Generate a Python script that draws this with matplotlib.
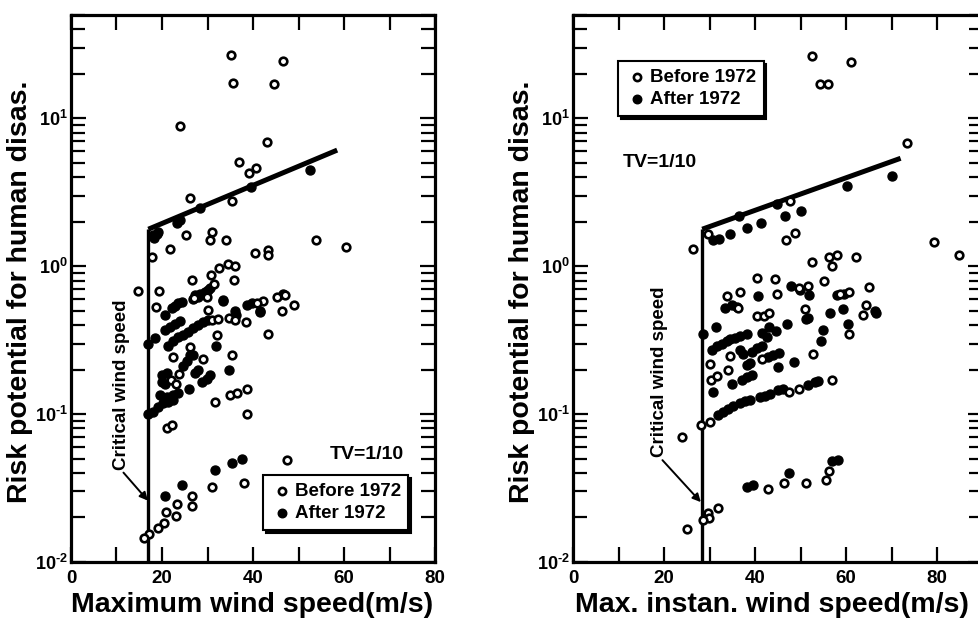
import numpy as np
import matplotlib
matplotlib.use("Agg")
import matplotlib.pyplot as plt
from matplotlib.ticker import LogLocator, MultipleLocator, FuncFormatter, NullFormatter

plt.rcParams['font.family'] = ['Liberation Sans', 'DejaVu Sans']
plt.rcParams['font.weight'] = 'bold'
plt.rcParams['mathtext.fontset'] = 'custom'
plt.rcParams['mathtext.rm'] = 'Liberation Sans:bold'
plt.rcParams['mathtext.bf'] = 'Liberation Sans:bold'
plt.rcParams['mathtext.default'] = 'bf'

# ---- left panel: maximum wind speed ----
left_before_x = [35.2, 35.5, 46.5, 44.6, 24.0, 43.0, 36.9, 39.2, 40.7, 26.2, 35.3, 53.8, 60.4,
                 25.3, 30.9, 30.5, 34.1, 21.8, 17.9, 40.5, 43.2, 43.2, 32.5, 34.4, 36.0, 26.5,
                 35.9, 30.8, 31.5, 14.8, 19.4, 49.0, 47.0, 45.3, 42.2, 40.8, 27.1, 29.8, 18.6,
                 30.2, 46.3, 30.9, 32.2, 34.8, 36.0, 38.5, 32.0, 43.2, 26.2, 22.5, 29.1, 35.3,
                 23.8, 22.0, 23.0, 38.6, 34.9, 36.4, 31.6, 38.6, 21.0, 22.1, 47.4, 38.1, 31.0,
                 26.7, 26.7, 23.2, 23.1, 20.8, 20.4, 19.2, 17.2, 16.0]
left_before_y = [27, 17.3, 24.4, 17.2, 8.9, 6.9, 5.1, 4.3, 4.6, 2.9, 2.76, 1.5, 1.34,
                 1.62, 1.7, 1.5, 1.5, 1.3, 1.16, 1.22, 1.28, 1.2, 0.98, 1.04, 1.0, 0.81,
                 0.81, 0.87, 0.76, 0.68, 0.68, 0.55, 0.64, 0.62, 0.58, 0.565, 0.61, 0.62, 0.53,
                 0.505, 0.50, 0.43, 0.44, 0.45, 0.43, 0.42, 0.345, 0.35, 0.285, 0.244, 0.235, 0.25,
                 0.188, 0.17, 0.16, 0.148, 0.135, 0.14, 0.12, 0.10, 0.080, 0.084, 0.049, 0.034, 0.032,
                 0.028, 0.024, 0.0245, 0.0205, 0.0217, 0.0184, 0.0171, 0.0155, 0.0146]
left_after_x = [52.5, 39.5, 28.4, 24.0, 23.3, 18.8, 18.0, 18.3, 19.2,
                33.3, 30.0, 30.5, 27.3, 28.4, 36.0, 36.3, 38.6, 39.7, 41.5, 41.5, 46.7, 33.5,
                20.7, 22.1, 22.9, 23.6, 24.3, 26.9, 28.0, 29.5,
                17.0, 18.5, 20.7, 21.8, 22.9, 24.0,
                21.4, 22.5, 23.6, 24.7, 25.8, 26.9, 28.0, 29.1, 30.2, 31.9,
                24.7, 25.4, 26.2, 26.9, 27.3, 28.0, 28.7, 29.8, 30.5, 34.8,
                19.9, 21.0, 19.9, 20.7, 19.6, 21.0, 22.5, 23.6, 26.0,
                17.0, 18.1, 19.2, 20.3, 21.4, 22.5,
                37.6, 35.3, 31.6, 24.5, 20.7]
left_after_y = [4.5, 3.43, 2.47, 2.05, 1.97, 1.66, 1.62, 1.56, 1.70,
                0.58, 0.69, 0.71, 0.64, 0.65, 0.50, 0.47, 0.545, 0.56, 0.49, 0.50, 0.65, 0.59,
                0.47, 0.52, 0.54, 0.56, 0.57, 0.605, 0.62, 0.67,
                0.30, 0.325, 0.37, 0.39, 0.41, 0.425,
                0.29, 0.31, 0.33, 0.345, 0.36, 0.38, 0.40, 0.42, 0.43, 0.29,
                0.21, 0.23, 0.25, 0.25, 0.19, 0.20, 0.165, 0.174, 0.184, 0.20,
                0.185, 0.19, 0.165, 0.16, 0.134, 0.13, 0.134, 0.138, 0.148,
                0.10, 0.104, 0.112, 0.118, 0.121, 0.124,
                0.050, 0.047, 0.042, 0.033, 0.028]
left_limit_x = [17.0, 17.0, 58.5]
left_limit_y = [0.01, 1.78, 6.1]

# ---- right panel: max. instantaneous wind speed ----
right_before_x = [52.5, 61.2, 54.3, 56.0, 73.3, 47.7, 26.3, 29.7, 48.8, 46.8, 79.4, 84.9, 58.1,
                  56.3, 56.9, 62.2, 52.5, 55.2, 40.5, 44.4, 65.1, 33.9, 36.6, 44.8, 49.7, 51.6,
                  58.7, 60.7, 64.3, 63.7, 51.0, 40.5, 42.0, 43.1, 36.3, 60.7, 52.8, 34.4, 41.5,
                  30.1, 30.3, 31.6, 34.1, 47.5, 49.7, 56.9, 28.1, 30.0, 23.9, 42.8, 46.4, 51.1,
                  55.5, 56.3, 29.6, 29.9, 28.6, 31.9, 25.0]
right_before_y = [26.4, 24, 17, 17, 6.8, 2.76, 1.31, 1.64, 1.68, 1.51, 1.45, 1.2, 1.19,
                  1.16, 1.0, 1.15, 1.07, 0.80, 0.83, 0.82, 0.72, 0.63, 0.67, 0.65, 0.71, 0.74,
                  0.65, 0.67, 0.55, 0.47, 0.51, 0.46, 0.46, 0.48, 0.52, 0.35, 0.255, 0.246, 0.237,
                  0.218, 0.171, 0.18, 0.198, 0.141, 0.149, 0.17, 0.084, 0.088, 0.070, 0.031, 0.034, 0.034,
                  0.036, 0.041, 0.0215, 0.0197, 0.0192, 0.0233, 0.0166]
right_after_x = [60.2, 70.0, 50.0, 46.7, 44.8, 36.4, 41.3, 38.2, 34.5, 30.8, 32.0,
                 40.7, 47.9, 51.9, 49.9, 58.0, 59.6, 33.4, 34.9, 36.0, 66.4, 66.7, 56.5, 59.4,
                 51.7, 51.3, 60.5, 28.5, 31.4, 43.1, 44.6, 41.5, 42.6, 47.1, 55.0, 54.5,
                 30.5, 31.6, 32.7, 33.8, 34.5, 35.6, 36.6, 38.2,
                 36.7, 37.4, 39.3, 40.4, 41.5, 42.9, 44.0, 45.3,
                 38.2, 38.9, 45.1, 48.6, 37.1, 38.2, 39.3, 34.9, 30.7,
                 31.9, 33.0, 34.1, 35.2, 36.7, 37.8, 38.9, 41.1, 42.2, 43.3, 45.1, 46.2,
                 51.7, 53.2, 53.9,
                 38.2, 39.5, 47.5, 57.0, 58.3]
right_after_y = [3.5, 4.1, 2.36, 2.2, 2.63, 2.18, 1.97, 1.82, 1.66, 1.5, 1.54,
                 0.63, 0.74, 0.64, 0.69, 0.64, 0.65, 0.52, 0.545, 0.53, 0.50, 0.48, 0.48, 0.51,
                 0.45, 0.44, 0.41, 0.35, 0.39, 0.39, 0.365, 0.355, 0.33, 0.405, 0.37, 0.31,
                 0.27, 0.29, 0.30, 0.31, 0.32, 0.325, 0.34, 0.35,
                 0.27, 0.257, 0.264, 0.278, 0.29, 0.244, 0.25, 0.26,
                 0.214, 0.22, 0.207, 0.225, 0.17, 0.177, 0.184, 0.16, 0.141,
                 0.098, 0.104, 0.109, 0.113, 0.118, 0.122, 0.124, 0.13, 0.132, 0.136, 0.145, 0.147,
                 0.157, 0.165, 0.168,
                 0.032, 0.033, 0.040, 0.048, 0.049]
right_limit_x = [28.4, 28.4, 72.0]
right_limit_y = [0.01, 1.78, 5.37]

W, H = 979, 620
fig = plt.figure(figsize=(W / 100, H / 100), dpi=100)


def px_axes(x0, y0, x1, y1):
    # axes from pixel box (top-left origin)
    return fig.add_axes([x0 / W, 1 - y1 / H, (x1 - x0) / W, (y1 - y0) / H])


def log_label(v, p):
    # 10 with a small superscript exponent, hyphen instead of a wide minus
    e = int(round(np.log10(v)))
    sign = r"\text{-}" if e < 0 else ""
    return r"$10^{%s%d}$" % (sign, abs(e))


def style_axes(ax, xmax):
    ax.set_yscale('log')
    ax.set_xlim(0, xmax)
    ax.set_ylim(0.01, 50)
    for s in ax.spines.values():
        s.set_linewidth(2.3)
    ax.xaxis.set_major_locator(MultipleLocator(10))
    ax.xaxis.set_major_formatter(FuncFormatter(lambda v, p: f"{int(v)}" if v % 20 == 0 and v <= 80 else ""))
    ax.yaxis.set_major_locator(LogLocator(base=10, numticks=10))
    ax.yaxis.set_minor_locator(LogLocator(base=10, subs=np.arange(2, 10), numticks=20))
    ax.yaxis.set_minor_formatter(NullFormatter())
    ax.yaxis.set_major_formatter(FuncFormatter(log_label))
    ax.tick_params(axis='both', which='both', direction='in', top=True, right=True,
                   width=1.6, labelsize=13.5)
    ax.tick_params(axis='y', labelsize=13)
    ax.tick_params(axis='both', which='major', length=11)
    ax.tick_params(axis='y', which='minor', length=10)
    ax.tick_params(axis='x', pad=6)
    ax.tick_params(axis='y', pad=2)


def draw_panel(ax, bx, by, ax_, ay, lx, ly):
    ax.plot(lx[:2], ly[:2], color='black', lw=2.4, solid_capstyle='butt', zorder=2)
    ax.plot(lx[1:], ly[1:], color='black', lw=3.6, solid_capstyle='butt', zorder=2)
    h2 = ax.scatter(ax_, ay, s=42, facecolor='black', edgecolor='black', lw=1.0, zorder=3,
                    label='After 1972')
    h1 = ax.scatter(bx, by, s=30, facecolor='white', edgecolor='black', lw=1.9, zorder=4,
                    label='Before 1972')
    return h1, h2


def add_legend(ax, handles, anchor):
    leg = ax.legend(handles=handles, loc='upper left', bbox_to_anchor=anchor,
                    borderaxespad=0, frameon=True, fancybox=False,
                    shadow={'facecolor': 'black', 'edgecolor': 'black', 'alpha': 1},
                    prop={'weight': 'bold', 'size': 13.5}, handletextpad=0.1,
                    labelspacing=0.3, borderpad=0.4, handlelength=1.2, markerscale=0.95)
    leg.get_frame().set_edgecolor('black')
    leg.get_frame().set_linewidth(1.5)
    leg.set_zorder(6)
    return leg


# left panel
ax1 = px_axes(71, 15, 435, 562)
style_axes(ax1, 80)
h1, h2 = draw_panel(ax1, left_before_x, left_before_y, left_after_x, left_after_y,
                    left_limit_x, left_limit_y)
add_legend(ax1, [h1, h2], (0.527, 0.159))
ax1.text(56.9, 0.053, "TV=1/10", fontsize=14, fontweight='bold', va='center', ha='left')
ax1.annotate("Critical wind speed", xy=(16.9, 0.026), xytext=(11.0, 0.042),
             rotation=90, ha='center', va='bottom', fontsize=13.5, fontweight='bold',
             arrowprops=dict(arrowstyle='-|>', color='black', lw=1.4, relpos=(0.5, 0),
                             mutation_scale=12, shrinkA=0, shrinkB=0))
fig.text(20 / W, 1 - 292 / H, "Risk potential for human disas.", rotation=90,
         ha='center', va='center', fontsize=20.5, fontweight='bold')
fig.text(252 / W, 1 - 605 / H, "Maximum wind speed(m/s)", ha='center', va='center',
         fontsize=20.5, fontweight='bold')

# right panel
ax2 = px_axes(573, 15, 573 + 90 * 4.55, 562)
style_axes(ax2, 90)
h1, h2 = draw_panel(ax2, right_before_x, right_before_y, right_after_x, right_after_y,
                    right_limit_x, right_limit_y)
add_legend(ax2, [h1, h2], (0.11, 0.916))
ax2.text(11.0, 5.05, "TV=1/10", fontsize=14, fontweight='bold', va='center', ha='left')
ax2.annotate("Critical wind speed", xy=(28.1, 0.0254), xytext=(19.1, 0.051),
             rotation=90, ha='center', va='bottom', fontsize=13.5, fontweight='bold',
             arrowprops=dict(arrowstyle='-|>', color='black', lw=1.4, relpos=(0.5, 0),
                             mutation_scale=12, shrinkA=0, shrinkB=0))
fig.text(522 / W, 1 - 292 / H, "Risk potential for human disas.", rotation=90,
         ha='center', va='center', fontsize=20.5, fontweight='bold')
fig.text(772 / W, 1 - 605 / H, "Max. instan. wind speed(m/s)", ha='center', va='center',
         fontsize=20.5, fontweight='bold')

fig.savefig("out.png", dpi=100)
